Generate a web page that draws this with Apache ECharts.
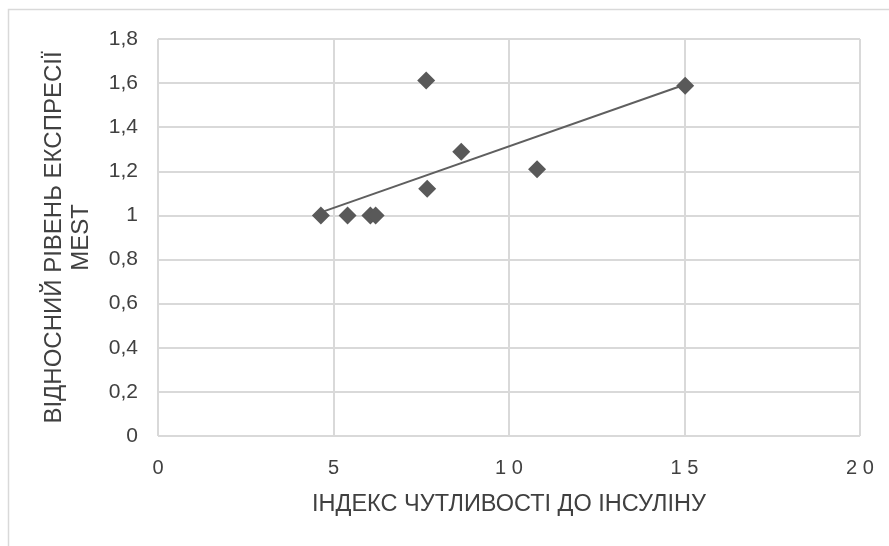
<!DOCTYPE html>
<html>
<head>
<meta charset="utf-8">
<script src="https://cdn.jsdelivr.net/npm/echarts@6/dist/echarts.min.js"></script>
<style>
  html, body { margin: 0; padding: 0; background: #fff; }
  #chart { width: 889px; height: 546px; }
</style>
</head>
<body>
<div id="chart"></div>
<script>
// Insulin sensitivity index vs relative MEST expression
const sensitivityIndex = [4.64, 5.40, 6.05, 6.20, 7.64, 7.67, 8.64, 10.80, 15.02];
const mestExpression   = [1.00, 1.00, 1.00, 1.00, 1.612, 1.121, 1.289, 1.210, 1.588];

const xTicks = { min: 0, max: 20, interval: 5 };
const yTicks = { min: 0, max: 1.8, interval: 0.2 };

const xTitle = 'ІНДЕКС ЧУТЛИВОСТІ ДО ІНСУЛІНУ';
const yTitle = 'ВІДНОСНИЙ РІВЕНЬ ЕКСПРЕСІЇ\nMEST';

// least-squares linear trend over the data range
function linearFit(xs, ys) {
  const n = xs.length;
  const mx = xs.reduce((a, b) => a + b, 0) / n;
  const my = ys.reduce((a, b) => a + b, 0) / n;
  let sxy = 0, sxx = 0;
  for (let i = 0; i < n; i++) {
    sxy += (xs[i] - mx) * (ys[i] - my);
    sxx += (xs[i] - mx) * (xs[i] - mx);
  }
  const k = sxy / sxx;
  return { k, b: my - k * mx };
}
const fit = linearFit(sensitivityIndex, mestExpression);
const xLo = Math.min(...sensitivityIndex), xHi = Math.max(...sensitivityIndex);
const trend = [[xLo, fit.k * xLo + fit.b], [xHi, fit.k * xHi + fit.b]];

const points = sensitivityIndex.map((x, i) => [x, mestExpression[i]]);

const labelFont = 'Liberation Sans, Arial, sans-serif';
const textGrey = '#404040';
const markGrey = '#595959';
const gridGrey = '#d9d9d9';

const chart = echarts.init(document.getElementById('chart'), null, { renderer: 'canvas' });
chart.setOption({
  animation: false,
  backgroundColor: '#fff',
  graphic: [{
    type: 'rect',
    shape: { x: 8.5, y: 9.5, width: 900, height: 560 },
    style: { fill: 'none', stroke: gridGrey, lineWidth: 1.5 },
    silent: true, z: -1
  }],
  grid: { left: 158, right: 29, top: 39, bottom: 110, containLabel: false },
  xAxis: {
    type: 'value',
    min: xTicks.min, max: xTicks.max, interval: xTicks.interval,
    name: xTitle,
    nameLocation: 'middle',
    nameGap: 57,
    nameTextStyle: { fontFamily: labelFont, fontSize: 23.5, color: textGrey },
    axisLine: { show: false },
    axisTick: { show: false },
    splitLine: { show: true, lineStyle: { color: gridGrey, width: 2 } },
    axisLabel: {
      margin: 22,
      fontFamily: labelFont, fontSize: 20, color: textGrey,
      formatter: v => String(v).split('').join(' ')
    }
  },
  yAxis: {
    type: 'value',
    min: yTicks.min, max: yTicks.max, interval: yTicks.interval,
    name: yTitle,
    nameLocation: 'middle',
    nameGap: 63,
    nameRotate: 90,
    nameTextStyle: { fontFamily: labelFont, fontSize: 24, color: textGrey, lineHeight: 27, align: 'center' },
    axisLine: { show: false },
    axisTick: { show: false },
    splitLine: { show: true, lineStyle: { color: gridGrey, width: 2 } },
    axisLabel: {
      margin: 20,
      fontFamily: labelFont, fontSize: 21, color: textGrey,
      formatter: v => String(Math.round(v * 10) / 10).replace('.', ',')
    }
  },
  series: [
    {
      type: 'line',
      data: trend,
      showSymbol: false,
      symbol: 'none',
      lineStyle: { color: '#5f5f5f', width: 2 },
      z: 2
    },
    {
      type: 'scatter',
      data: points,
      symbol: 'diamond',
      symbolSize: [18, 18],
      itemStyle: { color: markGrey, opacity: 1 },
      z: 3
    }
  ]
});
</script>
</body>
</html>
